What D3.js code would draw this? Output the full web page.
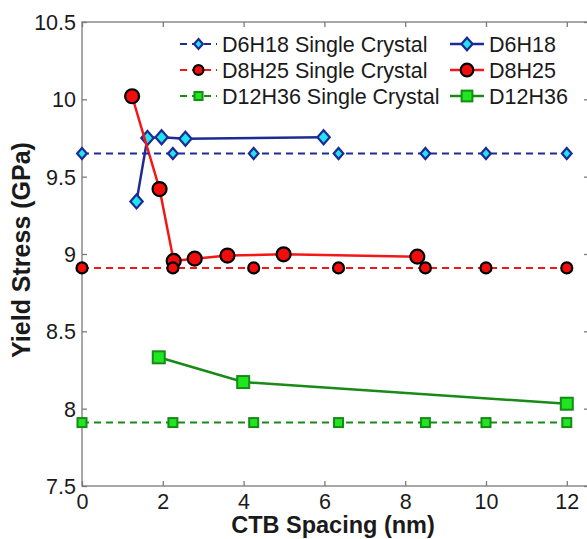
<!DOCTYPE html>
<html><head><meta charset="utf-8">
<script src="https://cdn.jsdelivr.net/npm/d3@7"></script>
<style>
html,body{margin:0;padding:0;background:#fff;}
text{font-family:"Liberation Sans",Arial,sans-serif;fill:#1a1a1a;}
</style></head>
<body>
<svg id="chart" width="587" height="539"></svg>
<script>
// ---- data ----
const scX = [0, 2.25, 4.25, 6.35, 8.5, 10, 12];
const d6h18SC = [9.65, 9.65, 9.65, 9.65, 9.65, 9.65, 9.65];
const d8h25SC = [8.91, 8.91, 8.91, 8.91, 8.91, 8.91, 8.91];
const d12h36SC = [7.91, 7.91, 7.91, 7.91, 7.91, 7.91, 7.91];

const d6h18X = [1.35, 1.62, 1.97, 2.56, 5.98];
const d6h18Y = [9.34, 9.75, 9.755, 9.745, 9.755];
const d8h25X = [1.24, 1.92, 2.27, 2.79, 3.6, 4.99, 8.3];
const d8h25Y = [10.02, 9.42, 8.955, 8.97, 8.99, 8.998, 8.983];
const d12h36X = [1.9, 3.99, 12];
const d12h36Y = [8.332, 8.172, 8.032];

const xTicks = [0, 2, 4, 6, 8, 10, 12];
const yTicks = [7.5, 8, 8.5, 9, 9.5, 10, 10.5];
const yTickLabels = ["7.5", "8", "8.5", "9", "9.5", "10", "10.5"];
const xTitle = "CTB Spacing (nm)";
const yTitle = "Yield Stress (GPa)";

const seriesNames = ["D6H18 Single Crystal", "D8H25 Single Crystal", "D12H36 Single Crystal", "D6H18", "D8H25", "D12H36"];

// ---- styles ----
const NAVY = "#1d2b95", CYAN = "#22e4ef";
const RED = "#f21818", RFILL = "#f20d0d";
const GREEN = "#178a17", GFILL = "#1fe61f";

const series = [
  {name: seriesNames[0], xs: scX, ys: d6h18SC, color: NAVY, dash: "7,5", w: 2, marker: "diamond", fill: CYAN, mstroke: NAVY, ms: 11},
  {name: seriesNames[1], xs: scX, ys: d8h25SC, color: RED, dash: "7,5", w: 2, marker: "circle", fill: RFILL, mstroke: "#000", ms: 11},
  {name: seriesNames[2], xs: scX, ys: d12h36SC, color: GREEN, dash: "7,5", w: 2, marker: "square", fill: GFILL, mstroke: GREEN, ms: 9},
  {name: seriesNames[3], xs: d6h18X, ys: d6h18Y, color: NAVY, dash: null, w: 2.5, marker: "diamond", fill: CYAN, mstroke: NAVY, ms: 14},
  {name: seriesNames[4], xs: d8h25X, ys: d8h25Y, color: RED, dash: null, w: 2.5, marker: "circle", fill: RFILL, mstroke: "#000", ms: 14},
  {name: seriesNames[5], xs: d12h36X, ys: d12h36Y, color: GREEN, dash: null, w: 2.5, marker: "square", fill: GFILL, mstroke: GREEN, ms: 12}
];

const svg = d3.select("#chart");
const L = 82, R = 589, T = 22, B = 486;
const x = d3.scaleLinear().domain([0, 12.55]).range([L, R]);
const y = d3.scaleLinear().domain([7.5, 10.5]).range([B, T]);

const AX = "#7a7a7a";
// frame
svg.append("rect").attr("x", L).attr("y", T).attr("width", R - L).attr("height", B - T)
  .attr("fill", "none").attr("stroke", AX).attr("stroke-width", 1.3);

// axes (ticks inward)
const tl = 5;
const gx = svg.append("g").attr("transform", `translate(0,${B})`)
  .call(d3.axisBottom(x).tickValues(xTicks).tickSize(-tl).tickPadding(8).tickFormat(d3.format("d")));
const gxt = svg.append("g").attr("transform", `translate(0,${T})`)
  .call(d3.axisTop(x).tickValues(xTicks).tickSize(-tl).tickFormat(""));
const gy = svg.append("g").attr("transform", `translate(${L},0)`)
  .call(d3.axisLeft(y).tickValues(yTicks).tickSize(-tl).tickPadding(7).tickFormat((d, i) => yTickLabels[i]));
const gyr = svg.append("g").attr("transform", `translate(${R},0)`)
  .call(d3.axisRight(y).tickValues(yTicks).tickSize(-tl).tickFormat(""));
[gx, gxt, gy, gyr].forEach(g => {
  g.select(".domain").remove();
  g.selectAll(".tick line").attr("stroke", AX).attr("stroke-width", 1.3);
  g.selectAll(".tick text").style("font-size", "21.5px").attr("fill", "#1a1a1a")
    .style("font-family", '"Liberation Sans",Arial,sans-serif');
});
gx.selectAll(".tick text").attr("dy", null).attr("y", 23);
gy.selectAll(".tick text").attr("dy", "0.35em").attr("x", -6);

// titles
svg.append("text").attr("x", 333).attr("y", 533).attr("text-anchor", "middle")
  .style("font-size", "23.5px").style("font-weight", "bold").text(xTitle);
svg.append("text").attr("transform", `translate(30,250) rotate(-90)`).attr("text-anchor", "middle")
  .style("font-size", "25px").style("font-weight", "bold").text(yTitle);

function drawMarker(g, type, cx, cy, s, fill, stroke) {
  if (type === "diamond") {
    const h = s / 2, wv = s * 0.44;
    g.append("path").attr("d", `M${cx},${cy - h}L${cx + wv},${cy}L${cx},${cy + h}L${cx - wv},${cy}Z`)
      .attr("fill", fill).attr("stroke", stroke).attr("stroke-width", 2.2);
  } else if (type === "circle") {
    g.append("circle").attr("cx", cx).attr("cy", cy).attr("r", s / 2)
      .attr("fill", fill).attr("stroke", stroke).attr("stroke-width", 2.2);
  } else {
    g.append("rect").attr("x", cx - s / 2).attr("y", cy - s / 2).attr("width", s).attr("height", s)
      .attr("fill", fill).attr("stroke", stroke).attr("stroke-width", 2);
  }
}

const line = d3.line().x(d => x(d[0])).y(d => y(d[1]));
const order = [3, 4, 5, 0, 1, 2];
order.forEach(i => {
  const s = series[i];
  const pts = s.xs.map((v, j) => [v, s.ys[j]]);
  const g = svg.append("g");
  g.append("path").attr("d", line(pts)).attr("fill", "none").attr("stroke", s.color)
    .attr("stroke-width", s.w).attr("stroke-dasharray", s.dash);
  pts.forEach(p => drawMarker(g, s.marker, x(p[0]), y(p[1]), s.ms, s.fill, s.mstroke));
});

// legend (two columns, no box)
const leg = svg.append("g");
const rowsY = [44, 70, 96];
series.forEach((s, i) => {
  const col = Math.floor(i / 3), row = i % 3;
  const x0 = col === 0 ? 180 : 450, x1 = col === 0 ? 217 : 484;
  const ty = rowsY[row];
  leg.append("line").attr("x1", x0).attr("x2", x1).attr("y1", ty).attr("y2", ty)
    .attr("stroke", s.color).attr("stroke-width", s.w).attr("stroke-dasharray", s.dash ? "7,5" : null);
  drawMarker(leg, s.marker, (x0 + x1) / 2, ty, s.ms * 0.9, s.fill, s.mstroke);
  leg.append("text").attr("x", x1 + 5).attr("y", ty).attr("dy", "0.36em")
    .style("font-size", "21.5px").text(s.name);
});
</script>
</body></html>
